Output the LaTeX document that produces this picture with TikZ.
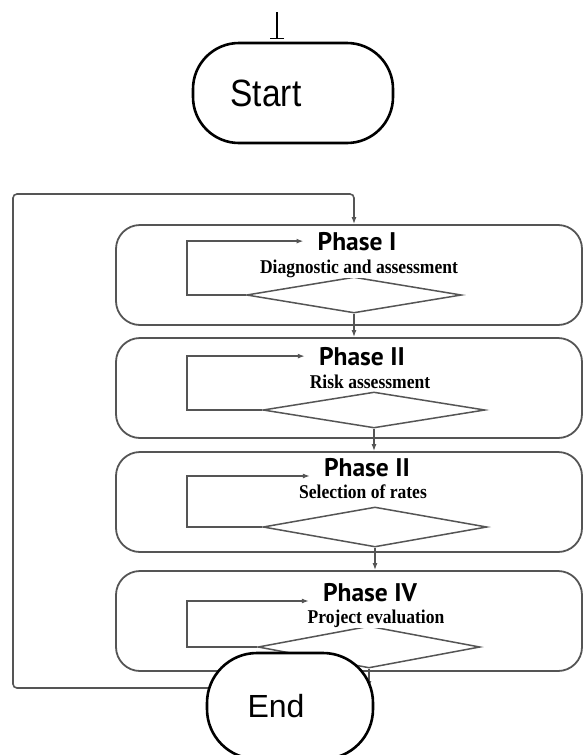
\documentclass[tikz,border=0pt]{standalone}
\usepackage{fontspec}
\setmainfont{Liberation Sans}
\newfontfamily\phasefont{PT Sans}
\newfontfamily\subfont[FakeStretch=0.9]{Liberation Serif}
\newfontfamily\startfont[FakeStretch=0.88]{Liberation Sans}
\usetikzlibrary{arrows.meta,shapes.geometric}
\definecolor{linegray}{RGB}{85,85,85}

\begin{document}
\begin{tikzpicture}[x=1pt,y=-1pt,
    terminal/.style={draw=black,line width=2.6pt,fill=white,inner sep=0pt},
    phasebox/.style={draw=linegray,line width=1.8pt,rounded corners=24pt,
        minimum width=466pt,minimum height=100pt},
    decision/.style={diamond,draw=linegray,line width=1.5pt,inner sep=0pt},
    title/.style={font=\phasefont\bfseries\fontsize{25.5}{27}\selectfont,inner sep=0pt,anchor=base},
    subtitle/.style={font=\subfont\bfseries\fontsize{19.5}{21}\selectfont,inner sep=0.5pt,
        fill=white,anchor=base},
    flow/.style={draw=linegray,line width=1.6pt,-{Latex[length=7pt,width=5pt]}}]
    \useasboundingbox (0,0) rectangle (584,755);

    % start
    \node[terminal,rounded corners=46pt,minimum width=200pt,minimum height=100pt,
        label={[font=\startfont\fontsize{38}{40}\selectfont,xshift=-27pt]center:Start}]
        (start) at (293,93) {};
    \coordinate (in) at (277,12);
    \draw[line width=1.2pt,-{Bar[width=14pt]},shorten >=3pt] (in) -- (in |- start.north);

    % phases
    \node[phasebox] (p1) at (349,275) {};
    \node[decision,minimum width=215pt,minimum height=36pt] (d1) at (354,295) {};
    \node[title] (t1) at (357,250) {Phase I};
    \node[subtitle] (s1) at (359,273) {Diagnostic and assessment};

    \node[phasebox] (p2) at (349,388) {};
    \node[decision,minimum width=222pt,minimum height=36pt] (d2) at (374,410) {};
    \node[title] (t2) at (362,365) {Phase II};
    \node[subtitle] (s2) at (370,388) {Risk assessment};

    \node[phasebox] (p3) at (349,502) {};
    \node[decision,minimum width=224pt,minimum height=40pt] (d3) at (375,527) {};
    \node[title] (t3) at (367,476) {Phase II};
    \node[subtitle] (s3) at (363,498) {Selection of rates};

    \node[phasebox] (p4) at (349,621) {};
    \node[decision,minimum width=222pt,minimum height=42pt] (d4) at (369,647) {};
    \node[title] (t4) at (370,601) {Phase IV};
    \node[subtitle] (s4) at (376,623) {Project evaluation};

    % inner loops
    \coordinate (lx) at (187,0);
    \foreach \i/\a in {1/west,2/west,3/base west,4/base west}{
        \draw[flow,shorten >=14pt] (d\i.west) -- (d\i.west -| lx) |- (t\i.\a);
        };
    \foreach \i/\j in {1/2,2/3,3/4}{
        \draw[flow] (d\i.south) -- (d\i.south |- p\j.north);
        };

    % outer loop
    \coordinate (lb) at (13,688);
    \coordinate (lt) at (13,194);
    \draw[flow] (d4.south) -- (d4.south |- lb);
    \draw[flow,rounded corners=4pt] (d4.south |- lb) -- (lb) -- (lt) -| (d1.north |- p1.north);

    % end
    \node[terminal,rounded corners=50pt,minimum width=166pt,minimum height=106pt,
        label={[font=\fontsize{32}{34}\selectfont,xshift=-14pt]center:End}]
        (end) at (290,706) {};
\end{tikzpicture}
\end{document}
